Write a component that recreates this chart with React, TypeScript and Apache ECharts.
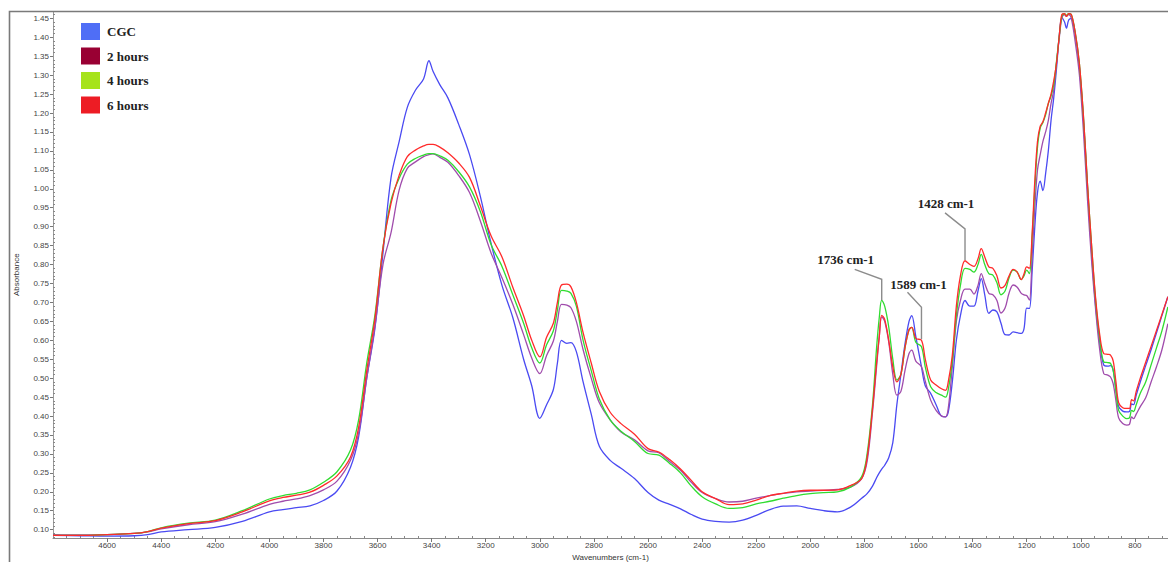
import React, { useEffect, useRef } from "react";
import * as echarts from "echarts";

const wavenumbers = [
  4800, 4700, 4600, 4500, 4450, 4400, 4300, 4200, 4100, 4000, 3950, 3900, 3850, 3800, 3750, 3700,
  3670, 3640, 3610, 3580, 3550, 3520, 3490, 3460, 3430, 3410, 3395, 3370, 3340, 3300, 3260, 3220,
  3180, 3140, 3100, 3060, 3030, 3000, 2975, 2950, 2935, 2920, 2900, 2885, 2865, 2840, 2810, 2780,
  2740, 2700, 2650, 2600, 2560, 2520, 2480, 2440, 2400, 2350, 2300, 2250, 2200, 2150, 2100, 2050,
  2000, 1950, 1900, 1850, 1810, 1790, 1770, 1755, 1745, 1736, 1725, 1710, 1695, 1680, 1665, 1650,
  1635, 1625, 1610, 1589, 1575, 1555, 1535, 1515, 1500, 1490, 1475, 1460, 1445, 1428, 1410, 1395,
  1380, 1368, 1355, 1340, 1325, 1310, 1295, 1280, 1265, 1250, 1235, 1220, 1210, 1200, 1190, 1180,
  1170, 1160, 1150, 1140, 1130, 1120, 1110, 1100, 1090, 1080, 1070, 1060, 1053, 1045, 1035, 1020,
  1005, 990, 975, 960, 945, 930, 915, 900, 890, 880, 870, 860, 845, 830, 820, 812,
  805, 795, 780, 760, 740, 720, 700, 678,
];

const cgc = [
  0.085, 0.084, 0.083, 0.084, 0.087, 0.094, 0.100, 0.106, 0.122, 0.147, 0.153, 0.158, 0.163, 0.177, 0.202, 0.265,
  0.345, 0.500, 0.630, 0.830, 1.030, 1.125, 1.215, 1.260, 1.290, 1.338, 1.310, 1.275, 1.240, 1.170, 1.090, 0.980,
  0.855, 0.745, 0.660, 0.550, 0.480, 0.394, 0.430, 0.470, 0.540, 0.600, 0.592, 0.594, 0.570, 0.490, 0.405, 0.320,
  0.283, 0.262, 0.235, 0.198, 0.178, 0.167, 0.155, 0.140, 0.128, 0.122, 0.120, 0.125, 0.138, 0.153, 0.162, 0.163,
  0.156, 0.150, 0.147, 0.160, 0.183, 0.195, 0.215, 0.237, 0.250, 0.260, 0.270, 0.290, 0.330, 0.430, 0.510, 0.590,
  0.650, 0.665, 0.610, 0.530, 0.480, 0.460, 0.430, 0.400, 0.398, 0.410, 0.490, 0.600, 0.665, 0.705, 0.690, 0.690,
  0.730, 0.763, 0.720, 0.671, 0.680, 0.675, 0.645, 0.615, 0.614, 0.622, 0.620, 0.618, 0.630, 0.685, 0.684, 0.780,
  0.900, 0.990, 1.020, 0.995, 1.040, 1.100, 1.180, 1.240, 1.315, 1.400, 1.452, 1.440, 1.424, 1.445, 1.450, 1.405,
  1.320, 1.180, 1.000, 0.830, 0.690, 0.595, 0.535, 0.532, 0.533, 0.520, 0.470, 0.425, 0.413, 0.411, 0.412, 0.432,
  0.430, 0.455, 0.490, 0.533, 0.575, 0.620, 0.665, 0.715,
];

const hours2 = [
  0.087, 0.086, 0.087, 0.090, 0.094, 0.102, 0.113, 0.121, 0.141, 0.167, 0.175, 0.181, 0.190, 0.205, 0.228, 0.283,
  0.355, 0.500, 0.635, 0.800, 0.885, 0.997, 1.054, 1.071, 1.085, 1.090, 1.092, 1.083, 1.070, 1.035, 0.990, 0.915,
  0.830, 0.765, 0.695, 0.615, 0.553, 0.512, 0.560, 0.598, 0.650, 0.695, 0.693, 0.686, 0.650, 0.575, 0.500, 0.435,
  0.390, 0.358, 0.337, 0.308, 0.303, 0.280, 0.257, 0.225, 0.198, 0.182, 0.173, 0.175, 0.183, 0.190, 0.196, 0.200,
  0.202, 0.204, 0.206, 0.213, 0.235, 0.280, 0.410, 0.530, 0.610, 0.662, 0.650, 0.595, 0.510, 0.455, 0.465, 0.520,
  0.565, 0.574, 0.545, 0.530, 0.492, 0.442, 0.415, 0.400, 0.398, 0.420, 0.530, 0.650, 0.705, 0.735, 0.735, 0.722,
  0.745, 0.776, 0.750, 0.724, 0.720, 0.705, 0.672, 0.685, 0.725, 0.746, 0.740, 0.724, 0.720, 0.718, 0.706, 0.820,
  0.950, 1.050, 1.090, 1.125, 1.150, 1.180, 1.225, 1.260, 1.330, 1.395, 1.450, 1.460, 1.455, 1.460, 1.450, 1.385,
  1.300, 1.150, 0.970, 0.810, 0.680, 0.575, 0.512, 0.508, 0.503, 0.485, 0.440, 0.395, 0.380, 0.376, 0.378, 0.398,
  0.393, 0.405, 0.425, 0.448, 0.490, 0.530, 0.575, 0.644,
];

const hours4 = [
  0.085, 0.085, 0.087, 0.090, 0.095, 0.105, 0.117, 0.125, 0.150, 0.181, 0.190, 0.196, 0.205, 0.225, 0.253, 0.310,
  0.390, 0.540, 0.665, 0.845, 0.970, 1.028, 1.065, 1.080, 1.089, 1.093, 1.093, 1.087, 1.075, 1.045, 1.005, 0.940,
  0.852, 0.795, 0.720, 0.645, 0.580, 0.540, 0.588, 0.625, 0.680, 0.732, 0.730, 0.724, 0.690, 0.600, 0.520, 0.445,
  0.390, 0.360, 0.333, 0.301, 0.297, 0.275, 0.250, 0.215, 0.187, 0.168, 0.156, 0.158, 0.168, 0.175, 0.183, 0.190,
  0.195, 0.198, 0.200, 0.213, 0.240, 0.300, 0.430, 0.580, 0.660, 0.706, 0.690, 0.635, 0.550, 0.495, 0.510, 0.580,
  0.628, 0.634, 0.595, 0.583, 0.530, 0.477, 0.462, 0.455, 0.450, 0.470, 0.545, 0.665, 0.745, 0.790, 0.787, 0.780,
  0.800, 0.827, 0.800, 0.776, 0.772, 0.752, 0.720, 0.730, 0.765, 0.785, 0.780, 0.760, 0.770, 0.785, 0.776, 0.870,
  1.000, 1.110, 1.160, 1.175, 1.195, 1.225, 1.245, 1.275, 1.335, 1.400, 1.455, 1.462, 1.458, 1.462, 1.460, 1.410,
  1.330, 1.190, 1.010, 0.850, 0.705, 0.605, 0.543, 0.541, 0.539, 0.520, 0.465, 0.415, 0.400, 0.393, 0.395, 0.415,
  0.412, 0.430, 0.460, 0.490, 0.535, 0.580, 0.625, 0.688,
];

const hours6 = [
  0.085, 0.085, 0.087, 0.090, 0.095, 0.104, 0.116, 0.124, 0.147, 0.176, 0.185, 0.191, 0.199, 0.217, 0.242, 0.292,
  0.370, 0.520, 0.655, 0.845, 0.962, 1.036, 1.085, 1.102, 1.113, 1.117, 1.117, 1.110, 1.095, 1.068, 1.030, 0.955,
  0.875, 0.820, 0.740, 0.665, 0.600, 0.556, 0.608, 0.645, 0.700, 0.746, 0.748, 0.741, 0.700, 0.620, 0.540, 0.465,
  0.410, 0.380, 0.352, 0.314, 0.305, 0.285, 0.260, 0.230, 0.200, 0.182, 0.166, 0.168, 0.178, 0.190, 0.196, 0.202,
  0.204, 0.204, 0.205, 0.217, 0.235, 0.290, 0.420, 0.540, 0.610, 0.666, 0.655, 0.600, 0.530, 0.490, 0.510, 0.580,
  0.628, 0.634, 0.605, 0.600, 0.550, 0.495, 0.482, 0.472, 0.468, 0.490, 0.560, 0.690, 0.770, 0.810, 0.800, 0.795,
  0.815, 0.842, 0.820, 0.794, 0.790, 0.770, 0.738, 0.745, 0.770, 0.787, 0.780, 0.760, 0.775, 0.794, 0.790, 0.880,
  1.020, 1.125, 1.165, 1.177, 1.200, 1.225, 1.250, 1.285, 1.330, 1.400, 1.460, 1.462, 1.455, 1.462, 1.460, 1.410,
  1.330, 1.190, 1.010, 0.850, 0.710, 0.615, 0.565, 0.563, 0.561, 0.545, 0.490, 0.435, 0.422, 0.420, 0.420, 0.443,
  0.440, 0.465, 0.500, 0.542, 0.584, 0.626, 0.668, 0.715,
];

const seriesNames = ["CGC", "2 hours", "4 hours", "6 hours"];
const seriesValues = [cgc, hours2, hours4, hours6];
const lineColors = ["#4a4af2", "#a04cac", "#30dc30", "#ff2b2b"];
const legendColors = ["#4f6ef6", "#990033", "#a6e31b", "#ed1c24"];

const yTickLabels = [
  0.1, 0.15, 0.2, 0.25, 0.3, 0.35, 0.4, 0.45, 0.5, 0.55, 0.6, 0.65, 0.7, 0.75, 0.8, 0.85, 0.9, 0.95,
  1.0, 1.05, 1.1, 1.15, 1.2, 1.25, 1.3, 1.35, 1.4, 1.45,
];
const xTickLabels = [
  4600, 4400, 4200, 4000, 3800, 3600, 3400, 3200, 3000, 2800, 2600, 2400, 2200, 2000, 1800, 1600, 1400,
  1200, 1000, 800,
];
const yMinorTicks = [
  0.08, 0.09, 0.11, 0.12, 0.13, 0.14, 0.16, 0.17, 0.18, 0.19, 0.21, 0.22, 0.23, 0.24, 0.26, 0.27, 0.28, 0.29,
  0.31, 0.32, 0.33, 0.34, 0.36, 0.37, 0.38, 0.39, 0.41, 0.42, 0.43, 0.44, 0.46, 0.47, 0.48, 0.49, 0.51, 0.52,
  0.53, 0.54, 0.56, 0.57, 0.58, 0.59, 0.61, 0.62, 0.63, 0.64, 0.66, 0.67, 0.68, 0.69, 0.71, 0.72, 0.73, 0.74,
  0.76, 0.77, 0.78, 0.79, 0.81, 0.82, 0.83, 0.84, 0.86, 0.87, 0.88, 0.89, 0.91, 0.92, 0.93, 0.94, 0.96, 0.97,
  0.98, 0.99, 1.01, 1.02, 1.03, 1.04, 1.06, 1.07, 1.08, 1.09, 1.11, 1.12, 1.13, 1.14, 1.16, 1.17, 1.18, 1.19,
  1.21, 1.22, 1.23, 1.24, 1.26, 1.27, 1.28, 1.29, 1.31, 1.32, 1.33, 1.34, 1.36, 1.37, 1.38, 1.39, 1.41, 1.42,
  1.43, 1.44, 1.46,
];
const xMinorTicks = [
  4750, 4700, 4650, 4550, 4500, 4450, 4350, 4300, 4250, 4150, 4100, 4050, 3950, 3900, 3850, 3750, 3700, 3650,
  3550, 3500, 3450, 3350, 3300, 3250, 3150, 3100, 3050, 2950, 2900, 2850, 2750, 2700, 2650, 2550, 2500, 2450,
  2350, 2300, 2250, 2150, 2100, 2050, 1950, 1900, 1850, 1750, 1700, 1650, 1550, 1500, 1450, 1350, 1300, 1250,
  1150, 1100, 1050, 950, 900, 850, 750, 700,
];

const annotations = [
  { wn: 1736, label: "1736 cm-1", peak: 0.706, elbow: 0.761 },
  { wn: 1589, label: "1589 cm-1", peak: 0.603, elbow: 0.687 },
  { wn: 1428, label: "1428 cm-1", peak: 0.812, elbow: 0.894 },
];
// pixel offsets from the elbow: [diagonal end dx, dy, text centre dx, dy]
const annotationLayout = [
  [-27, -10, -36, -20],
  [-14, -15, -3, -23],
  [-20, -16, -19, -25],
];

const X_MIN = 677.5;
const X_MAX = 4800;
const Y_MIN = 0.078;
const Y_MAX = 1.468;

export default function App() {
  const ref = useRef<HTMLDivElement>(null);

  useEffect(() => {
    if (!ref.current) return;
    const chart = echarts.init(ref.current, undefined, { renderer: "svg" });

    const axisLabelStyle = {
      color: "#444",
      fontSize: 8,
      fontFamily: "Liberation Sans, Arial, sans-serif",
    };

    const option: any = {
      animation: false,
      backgroundColor: "#ffffff",
      grid: {
        left: 53,
        top: 11.5,
        right: 0,
        bottom: 24,
        containLabel: false,
        outerBoundsMode: "none",
      },
      legend: {
        orient: "vertical",
        left: 76,
        top: 18,
        itemWidth: 19,
        itemHeight: 17,
        itemGap: 7.5,
        icon: "rect",
        selectedMode: false,
        textStyle: {
          fontFamily: "Liberation Serif, Times New Roman, serif",
          fontWeight: "bold",
          fontSize: 13,
          color: "#222",
          padding: [0, 0, 0, 2],
        },
        data: seriesNames.map((n, i) => ({
          name: n,
          icon: "rect",
          itemStyle: { color: legendColors[i], borderWidth: 0 },
        })),
      },
      xAxis: [
        {
          type: "value",
          inverse: true,
          min: X_MIN,
          max: X_MAX,
          position: "bottom",
          name: "Wavenumbers (cm-1)",
          nameLocation: "middle",
          nameGap: 11,
          nameTextStyle: { ...axisLabelStyle, fontSize: 8, color: "#333", lineHeight: 8 },
          axisLine: { show: true, lineStyle: { color: "#8a8a8a", width: 1 } },
          axisTick: {
            show: true,
            length: 4,
            lineStyle: { color: "#777" },
            customValues: xTickLabels,
          },
          axisLabel: {
            ...axisLabelStyle,
            margin: 3,
            lineHeight: 8,
            customValues: xTickLabels,
            formatter: (v: number) => String(Math.round(v)),
          },
          splitLine: { show: false },
        },
        {
          type: "value",
          inverse: true,
          min: X_MIN,
          max: X_MAX,
          position: "bottom",
          axisLine: { show: false },
          axisTick: {
            show: true,
            length: 2,
            inside: true,
            lineStyle: { color: "#888" },
            customValues: xMinorTicks,
          },
          axisLabel: { show: false },
          splitLine: { show: false },
        },
      ],
      yAxis: [
        {
          type: "value",
          min: Y_MIN,
          max: Y_MAX,
          position: "left",
          name: "Absorbance",
          nameLocation: "middle",
          nameGap: 33,
          nameRotate: 90,
          nameTextStyle: { ...axisLabelStyle, fontSize: 8, color: "#333" },
          axisLine: { show: true, lineStyle: { color: "#9a9a9a", width: 1 } },
          axisTick: {
            show: true,
            length: 3,
            lineStyle: { color: "#777" },
            customValues: yTickLabels,
          },
          axisLabel: {
            ...axisLabelStyle,
            margin: 4,
            customValues: yTickLabels,
            formatter: (v: number) => v.toFixed(2),
          },
          splitLine: { show: false },
        },
        {
          type: "value",
          min: Y_MIN,
          max: Y_MAX,
          position: "left",
          axisLine: { show: false },
          axisTick: {
            show: true,
            length: 2,
            inside: true,
            lineStyle: { color: "#888" },
            customValues: yMinorTicks,
          },
          axisLabel: { show: false },
          splitLine: { show: false },
        },
      ],
      series: seriesNames.map((name, i) => ({
        name,
        type: "line",
        xAxisIndex: 0,
        yAxisIndex: 0,
        data: wavenumbers.map((w, j) => [w, seriesValues[i][j]]),
        showSymbol: false,
        symbol: "none",
        smooth: 0.35,
        clip: true,
        itemStyle: { color: legendColors[i] },
        lineStyle: { color: lineColors[i], width: 1.3 },
        emphasis: { disabled: true },
        z: 2 + i,
      })),
    };

    chart.setOption(option);

    const graphics: any[] = [
      {
        type: "polyline",
        silent: true,
        z: 100,
        shape: { points: [[9.5, 562], [9.5, 11.5], [1168, 11.5]] },
        style: { stroke: "#7a7a7a", lineWidth: 1.6, fill: "none" },
      },
    ];
    annotations.forEach((a, i) => {
      const [dx1, dy1, tx, ty] = annotationLayout[i];
      const p0 = chart.convertToPixel({ gridIndex: 0 }, [a.wn, a.peak]) as number[];
      const p1 = chart.convertToPixel({ gridIndex: 0 }, [a.wn, a.elbow]) as number[];
      graphics.push({
        type: "polyline",
        silent: true,
        z: 100,
        shape: { points: [p0, p1, [p1[0] + dx1, p1[1] + dy1]] },
        style: { stroke: "#8c8c8c", lineWidth: 1.4, fill: "none" },
      });
      graphics.push({
        type: "text",
        silent: true,
        z: 101,
        x: p1[0] + tx,
        y: p1[1] + ty,
        style: {
          text: a.label,
          fill: "#222",
          font: "bold 13px 'Liberation Serif', 'Times New Roman', serif",
          textAlign: "center",
          textVerticalAlign: "middle",
        },
      });
    });
    chart.setOption({ graphic: graphics });

    return () => {
      chart.dispose();
    };
  }, []);

  return (
    <div
      ref={ref}
      style={{ position: "fixed", left: 0, top: 0, width: 1168, height: 562, background: "#fff" }}
    />
  );
}
